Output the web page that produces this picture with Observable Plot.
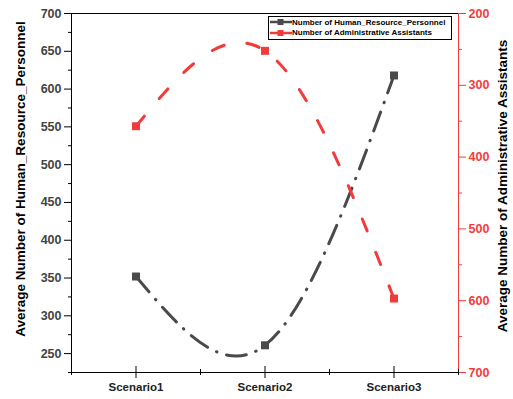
<!DOCTYPE html>
<html>
<head>
<meta charset="utf-8">
<script src="https://cdn.jsdelivr.net/npm/d3@7"></script>
<script src="https://cdn.jsdelivr.net/npm/@observablehq/plot@0.6"></script>
<style>
  html, body { margin: 0; padding: 0; background: #fff; }
  #wrap { position: relative; width: 513px; height: 399px; font-family: "Liberation Sans", Arial, sans-serif; }
  #legend { position: absolute; left: 268px; top: 16px; width: 184px; height: 24px; border: 1px solid #000; background: #fff; box-sizing: border-box; font-size: 8px; font-weight: bold; }
  #legend .row { display: flex; align-items: center; height: 10.5px; margin-left: 1px; }
  #legend svg { flex: none; }
</style>
</head>
<body>
<div id="wrap"><div id="chart"></div><div id="legend"></div></div>
<script>
const scenarios = ["Scenario1", "Scenario2", "Scenario3"];
const hrValues = [352, 261, 618];
const adminValues = [357, 252, 597];
const leftTicks = [250, 300, 350, 400, 450, 500, 550, 600, 650, 700];
const leftMinor = [225, 275, 325, 375, 425, 475, 525, 575, 625, 675];
const rightTicks = [200, 300, 400, 500, 600, 700];
const rightMinor = [250, 350, 450, 550, 650];
const xMajor = [1, 2, 3];
const xMinor = [0.5, 1.5, 2.5, 3.5];
const hrLabel = "Number of Human_Resource_Personnel";
const adminLabel = "Number of Administrative Assistants";
const leftTitle = "Average Number of Human_Resource_Personnel";
const rightTitle = "Average Number of Administrative Assistants";

const black = "#4a4a4a";
const red = "#f23c3c";

// secondary (right, inverted) axis mapped onto the primary y scale
const toLeft = d3.scaleLinear().domain([200, 700]).range([700, 225]);

const hr = scenarios.map((s, i) => ({x: i + 1, y: hrValues[i]}));
const admin = scenarios.map((s, i) => ({x: i + 1, y: toLeft(adminValues[i]), v: adminValues[i]}));

const font = "Liberation Sans, Arial, sans-serif";

const chart = Plot.plot({
  width: 513,
  height: 399,
  marginLeft: 71,
  marginRight: 55,
  marginTop: 13,
  marginBottom: 27,
  style: {fontFamily: font, background: "white"},
  x: {type: "linear", domain: [0.5, 3.5]},
  y: {domain: [225, 700]},
  marks: [
    // frame
    Plot.ruleY([700], {stroke: "#000"}),
    Plot.ruleY([225], {stroke: "#000"}),
    Plot.ruleX([0.5], {stroke: "#000"}),
    Plot.ruleX([3.5], {stroke: red}),
    // left axis
    Plot.axisY(leftTicks, {anchor: "left", tickSize: 7, tickPadding: 3, fontSize: 12.5, fontWeight: "bold", color: "#444", stroke: "#000", label: null}),
    Plot.axisY(leftMinor, {anchor: "left", tickSize: 3, tickFormat: () => "", stroke: "#000", label: null}),
    // right axis
    Plot.axisY(rightTicks.map(toLeft), {anchor: "right", tickSize: 7, tickPadding: 3, fontSize: 12.5, fontWeight: "bold", color: red, stroke: red, tickFormat: d => Math.round(toLeft.invert(d)), label: null}),
    Plot.axisY(rightMinor.map(toLeft), {anchor: "right", tickSize: 3, tickFormat: () => "", stroke: red, label: null}),
    // bottom axis
    Plot.axisX(xMajor, {anchor: "bottom", tickSize: 6, tickPadding: 4, fontSize: 11.5, fontWeight: "bold", color: "#222", stroke: "#000", tickFormat: d => scenarios[d - 1], label: null}),
    Plot.axisX(xMajor, {anchor: "bottom", tickSize: -6, tickFormat: () => "", stroke: "#000", label: null}),
    Plot.axisX(xMinor, {anchor: "bottom", tickSize: 3, tickFormat: () => "", stroke: "#000", label: null}),
    Plot.axisX(xMinor, {anchor: "bottom", tickSize: -3, tickFormat: () => "", stroke: "#000", label: null}),
    // axis titles
    Plot.text([leftTitle], {frameAnchor: "left", textAnchor: "middle", dx: -51, dy: -14, rotate: -90, fontSize: 13.5, fontWeight: "bold", fill: "#000"}),
    Plot.text([rightTitle], {frameAnchor: "right", textAnchor: "middle", dx: 44, dy: -7, rotate: -90, fontSize: 13.5, fontWeight: "bold", fill: "#000", style: {letterSpacing: "0.3px"}}),
    // series
    Plot.line(hr, {x: "x", y: "y", curve: "natural", stroke: black, strokeWidth: 3, strokeDasharray: "20,10,0.5,10", strokeLinecap: "round"}),
    Plot.line(admin, {x: "x", y: "y", curve: "natural", stroke: red, strokeWidth: 3, strokeDasharray: "13,23", strokeLinecap: "round"}),
    Plot.dot(hr, {x: "x", y: "y", symbol: "square", r: 4.5, fill: black, stroke: "none"}),
    Plot.dot(admin, {x: "x", y: "y", symbol: "square", r: 4.5, fill: red, stroke: "none"})
  ]
});
document.getElementById("chart").appendChild(chart);

// legend
const legend = document.getElementById("legend");
[[hrLabel, black], [adminLabel, red]].forEach(([label, color]) => {
  const row = document.createElement("div");
  row.className = "row";
  row.innerHTML = `<svg width="22" height="8"><line x1="0" y1="4" x2="22" y2="4" stroke="${color}" stroke-width="2.5"/><rect x="7.5" y="1" width="6" height="6" fill="${color}"/></svg><span>${label}</span>`;
  legend.appendChild(row);
});
</script>
</body>
</html>
